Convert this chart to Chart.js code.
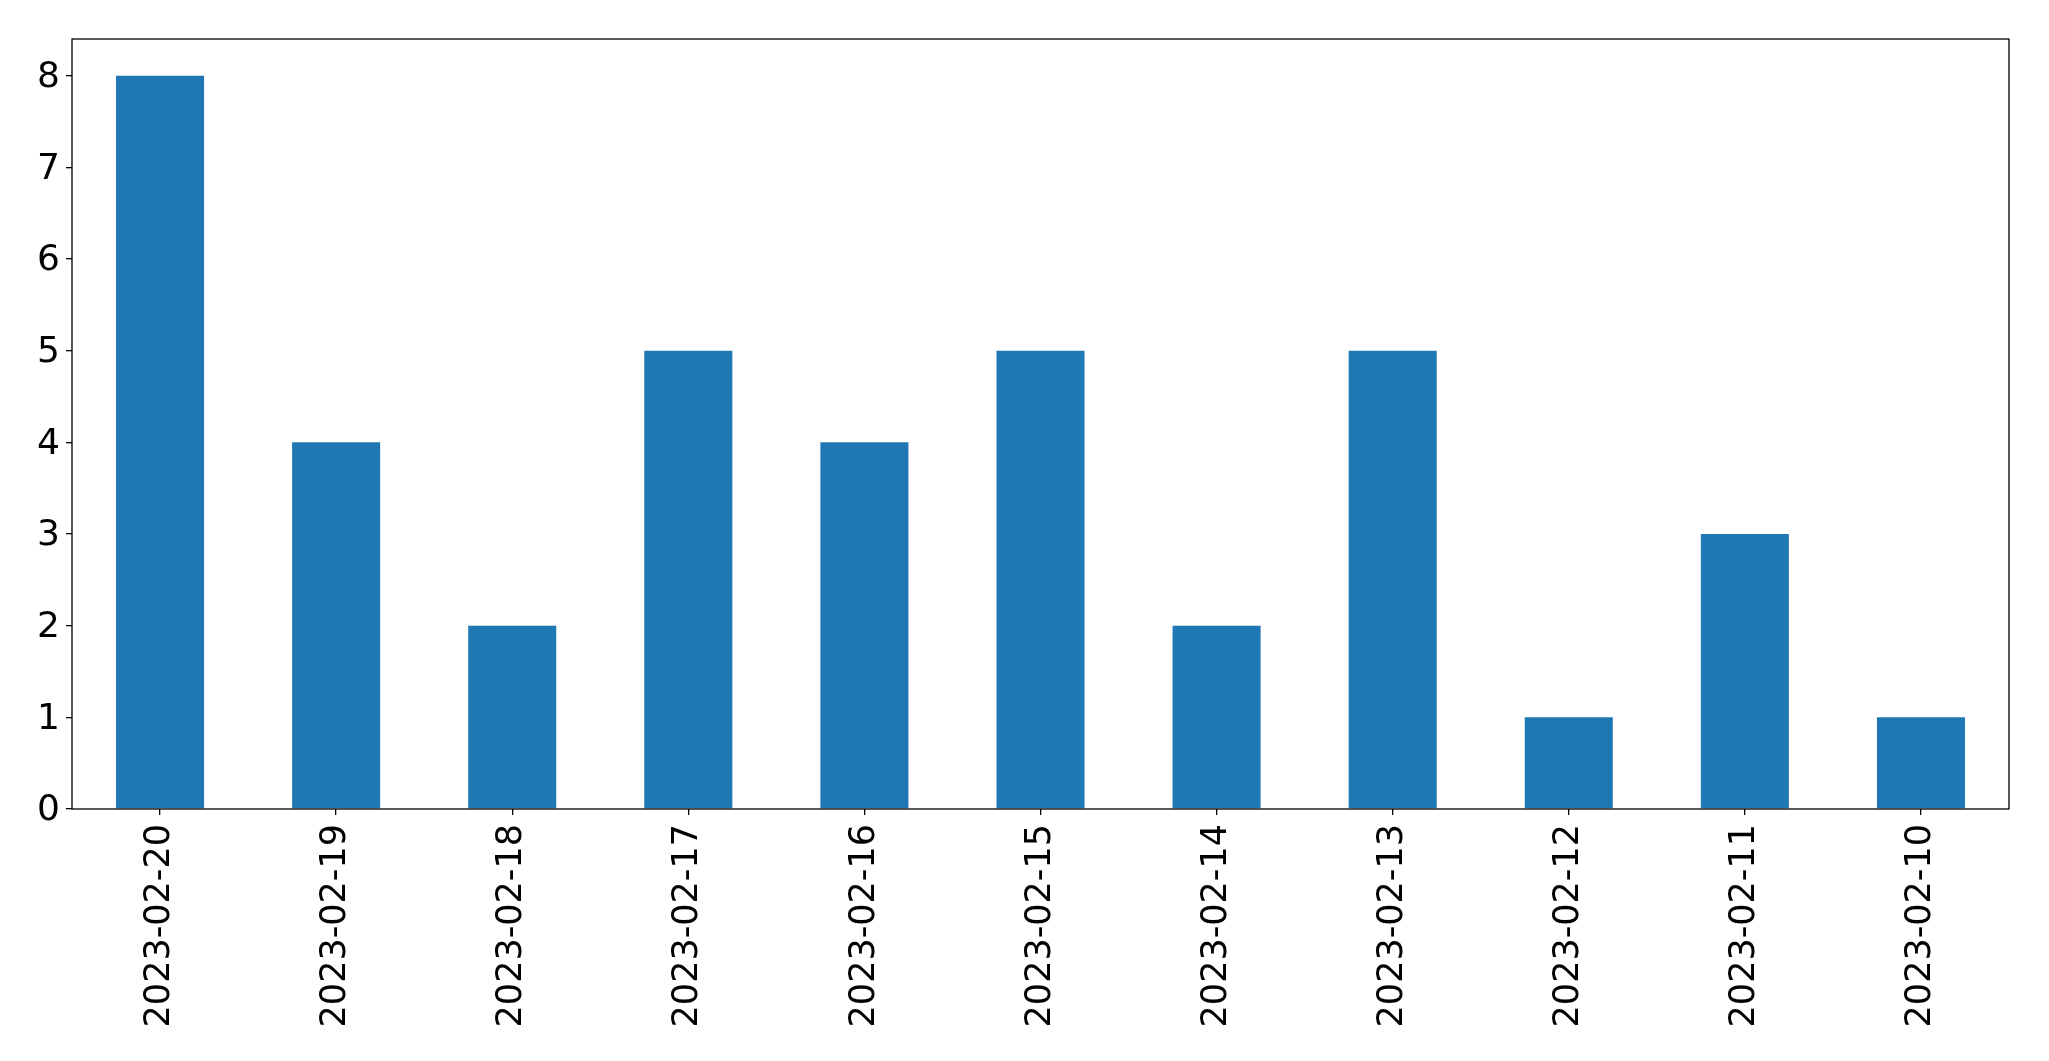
<!DOCTYPE html>
<html>
<head>
<meta charset="utf-8">
<script src="https://cdn.jsdelivr.net/npm/chart.js@4"></script>
<style>
  html, body { margin: 0; padding: 0; background: #fff; }
  #wrap { width: 2049px; height: 1061px; }
</style>
</head>
<body>
<div id="wrap"><canvas id="chart" width="2049" height="1061"></canvas></div>
<script>
const dates = ['2023-02-20', '2023-02-19', '2023-02-18', '2023-02-17', '2023-02-16', '2023-02-15',
               '2023-02-14', '2023-02-13', '2023-02-12', '2023-02-11', '2023-02-10'];
const counts = [8, 4, 2, 5, 4, 5, 2, 5, 1, 3, 1];
const yTicks = [0, 1, 2, 3, 4, 5, 6, 7, 8];

// draw the full box around the plot, like matplotlib spines
const frame = {
    id: 'frame',
    afterDraw(chart) {
        const a = chart.chartArea;
        const ctx = chart.ctx;
        ctx.save();
        ctx.strokeStyle = '#000';
        ctx.lineWidth = 1.3;
        ctx.strokeRect(a.left, a.top, a.right - a.left, a.bottom - a.top);
        ctx.restore();
    }
};

new Chart(document.getElementById('chart').getContext('2d'), {
    type: 'bar',
    data: {
        labels: dates,
        datasets: [{
            data: counts,
            backgroundColor: '#1f77b4',
            borderWidth: 0,
            barPercentage: 0.5,
            categoryPercentage: 1.0
        }]
    },
    options: {
        responsive: false,
        animation: false,
        layout: { padding: { top: 39, right: 40, left: 0, bottom: 0 } },
        plugins: { legend: { display: false }, tooltip: { enabled: false } },
        scales: {
            x: {
                grid: { offset: false, drawOnChartArea: false, tickLength: 6, color: '#000', lineWidth: 1.3 },
                border: { display: false },
                ticks: { color: '#000', font: { family: 'DejaVu Sans', size: 35 }, minRotation: 90, maxRotation: 90, padding: 9, autoSkip: false },
                afterFit(scale) { scale.height = 1061 - 809; }
            },
            y: {
                min: 0,
                max: 8.4,
                grid: { drawOnChartArea: false, tickLength: 6, color: '#000', lineWidth: 1.3 },
                border: { display: false },
                afterBuildTicks(scale) { scale.ticks = yTicks.map(v => ({ value: v })); },
                ticks: { color: '#000', font: { family: 'DejaVu Sans', size: 36 }, padding: 6, labelOffset: 2 },
                afterFit(scale) { scale.width = 72; }
            }
        }
    },
    plugins: [frame]
});
</script>
</body>
</html>
